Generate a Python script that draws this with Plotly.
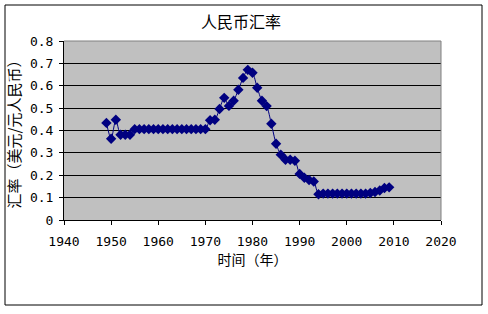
import plotly.graph_objects as go

years = [1949, 1950, 1951, 1952, 1953, 1954,
         1955, 1956, 1957, 1958, 1959, 1960, 1961, 1962, 1963, 1964, 1965, 1966, 1967, 1968, 1969, 1970,
         1971, 1972, 1973, 1974, 1975, 1976, 1977, 1978, 1979, 1980, 1981, 1982, 1983, 1984, 1985,
         1986, 1987, 1988, 1989, 1990, 1991, 1992, 1993, 1994, 1995, 1996, 1997, 1998, 1999,
         2000, 2001, 2002, 2003, 2004, 2005, 2006, 2007, 2008, 2009]
rates = [0.434, 0.363, 0.448, 0.381, 0.381, 0.381,
         0.406, 0.406, 0.406, 0.406, 0.406, 0.406, 0.406, 0.406, 0.406, 0.406, 0.406, 0.406, 0.406, 0.406, 0.406, 0.406,
         0.446, 0.448, 0.496, 0.546, 0.510, 0.533, 0.582, 0.635, 0.671, 0.658, 0.591, 0.533, 0.509, 0.430, 0.341,
         0.292, 0.269, 0.269, 0.265, 0.206, 0.189, 0.179, 0.172, 0.115, 0.118, 0.118, 0.118, 0.118, 0.118,
         0.118, 0.118, 0.118, 0.118, 0.118, 0.121, 0.125, 0.132, 0.143, 0.146]

title_text = "人民币汇率"
x_title = "时间（年）"
y_title = "汇率（美元/元人民币）"
x_ticks = [1940, 1950, 1960, 1970, 1980, 1990, 2000, 2010, 2020]
y_ticks = [0, 0.1, 0.2, 0.3, 0.4, 0.5, 0.6, 0.7, 0.8]

W, H = 488, 314
L, R, T, B = 64, 441, 41, 220
pw, ph = R - L, B - T

def px(x):
    return (x - L) / pw

def py(y):
    return (B - y) / ph

font = "Noto Sans CJK SC, SimSun, sans-serif"
tick_font = "DejaVu Sans Mono, monospace"
navy = "#000080"

fig = go.Figure()
fig.add_trace(go.Scatter(
    x=years, y=rates, mode="lines+markers",
    line=dict(color=navy, width=1, shape="spline", smoothing=0.8),
    marker=dict(symbol="diamond", size=8, color=navy, line=dict(width=0)),
    showlegend=False, hoverinfo="skip"))

shapes = [
    dict(type="rect", xref="paper", yref="paper", x0=px(5), x1=px(482), y0=py(305), y1=py(5),
         line=dict(color="black", width=1), fillcolor="rgba(0,0,0,0)", layer="below"),
    dict(type="line", xref="paper", yref="paper", x0=0, x1=1, y0=1, y1=1,
         line=dict(color="#808080", width=1)),
    dict(type="line", xref="paper", yref="paper", x0=1, x1=1, y0=0, y1=1,
         line=dict(color="#808080", width=1)),
]

fig.update_layout(
    width=W, height=H,
    margin=dict(l=L, r=W - R, t=T, b=H - B, pad=0),
    paper_bgcolor="white", plot_bgcolor="#C0C0C0",
    font=dict(family=font, size=12, color="black"),
    title=dict(text=title_text, x=241 / W, xanchor="center", y=1 - 22 / H, yanchor="middle",
               font=dict(size=16, family=font)),
    shapes=shapes,
    xaxis=dict(range=[1940, 2020], tickvals=x_ticks, ticks="outside", ticklen=4, tickcolor="black",
               showgrid=False, showline=True, linecolor="black", linewidth=1, zeroline=False,
               ticklabelstandoff=5,
               title=dict(text=x_title, font=dict(size=14), standoff=5),
               tickfont=dict(size=13, family=tick_font)),
    yaxis=dict(range=[0, 0.8], tickvals=y_ticks, ticks="outside", ticklen=4, tickcolor="black",
               showgrid=True, gridcolor="black", gridwidth=1, showline=True, linecolor="black",
               linewidth=1, zeroline=False, ticklabelstandoff=3,
               title=dict(text=y_title, font=dict(size=15), standoff=5),
               tickfont=dict(size=13, family=tick_font)),
)

fig.write_html("out.html")
